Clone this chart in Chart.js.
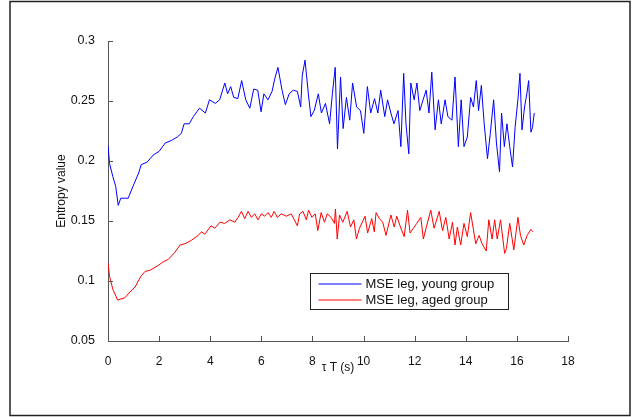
<!DOCTYPE html>
<html>
<head>
<meta charset="utf-8">
<script src="https://cdn.jsdelivr.net/npm/chart.js@4/dist/chart.umd.min.js"></script>
<style>
    html, body { margin: 0; padding: 0; background: #fff; }
    #wrap { width: 632px; height: 417px; }
</style>
</head>
<body>
<div id="wrap"><canvas id="chart" width="632" height="417"></canvas></div>
<script>
// Data
const seriesLabels = ["MSE leg, young group", "MSE leg, aged group"];

const youngTime = [0, 0.06, 0.19, 0.3, 0.4, 0.5, 0.66, 0.79, 0.98, 1.2, 1.3, 1.53, 1.77, 2.0, 2.24, 2.47, 2.71, 2.87, 2.98, 3.18,
    3.34, 3.58, 3.81, 3.97, 4.2, 4.37, 4.57, 4.68, 4.8, 4.92, 5.08, 5.23, 5.39, 5.55, 5.7, 5.86, 5.99, 6.1, 6.26, 6.42,
    6.53, 6.65, 6.81, 6.94, 7.09, 7.25, 7.41, 7.54, 7.6, 7.71, 7.84, 7.94, 8.07, 8.23, 8.35, 8.51, 8.67, 8.78, 8.89, 8.98,
    9.1, 9.2, 9.33, 9.46, 9.57, 9.73, 9.88, 10.01, 10.15, 10.28, 10.43, 10.56, 10.67, 10.83, 10.94, 11.07, 11.19, 11.35, 11.46, 11.57,
    11.66, 11.77, 11.85, 11.98, 12.09, 12.2, 12.33, 12.45, 12.56, 12.67, 12.8, 12.93, 13.04, 13.19, 13.3, 13.46, 13.58, 13.71, 13.82, 13.93,
    14.06, 14.19, 14.3, 14.41, 14.5, 14.61, 14.72, 14.85, 14.96, 15.09, 15.2, 15.32, 15.4, 15.51, 15.61, 15.72, 15.83, 15.93, 16.04, 16.12,
    16.2, 16.3, 16.39, 16.46, 16.55, 16.61, 16.68];
const youngEntropy = [0.213, 0.198, 0.187, 0.179, 0.163, 0.169, 0.169, 0.169, 0.179, 0.190, 0.197, 0.199, 0.205, 0.208, 0.215, 0.217, 0.220, 0.223, 0.231, 0.231,
    0.237, 0.244, 0.240, 0.251, 0.248, 0.251, 0.265, 0.256, 0.262, 0.253, 0.252, 0.267, 0.251, 0.244, 0.260, 0.259, 0.241, 0.256, 0.251, 0.258,
    0.269, 0.278, 0.259, 0.247, 0.256, 0.259, 0.258, 0.245, 0.271, 0.284, 0.256, 0.237, 0.242, 0.256, 0.240, 0.248, 0.231, 0.256, 0.278, 0.210,
    0.270, 0.227, 0.253, 0.234, 0.265, 0.245, 0.242, 0.223, 0.262, 0.240, 0.252, 0.240, 0.259, 0.237, 0.251, 0.240, 0.231, 0.242, 0.212, 0.273,
    0.231, 0.206, 0.265, 0.251, 0.265, 0.242, 0.251, 0.259, 0.240, 0.274, 0.226, 0.251, 0.231, 0.251, 0.237, 0.234, 0.270, 0.212, 0.251, 0.212,
    0.220, 0.253, 0.245, 0.267, 0.242, 0.263, 0.231, 0.202, 0.223, 0.251, 0.215, 0.191, 0.240, 0.212, 0.231, 0.212, 0.195, 0.228, 0.251, 0.273,
    0.226, 0.245, 0.256, 0.267, 0.224, 0.228, 0.240];

const agedTime = [0, 0.06, 0.19, 0.38, 0.5, 0.66, 0.82, 1.06, 1.29, 1.45, 1.65, 1.97, 2.16, 2.36, 2.62, 2.82, 3.01, 3.27, 3.53, 3.66,
    3.79, 4.03, 4.18, 4.38, 4.57, 4.77, 4.96, 5.09, 5.22, 5.35, 5.48, 5.61, 5.74, 5.87, 6.0, 6.13, 6.26, 6.39, 6.5, 6.63,
    6.78, 6.98, 7.17, 7.41, 7.5, 7.63, 7.76, 7.85, 7.98, 8.11, 8.21, 8.34, 8.47, 8.58, 8.73, 8.86, 8.9, 8.97, 9.06, 9.19,
    9.36, 9.49, 9.62, 9.72, 9.84, 10.06, 10.16, 10.32, 10.42, 10.49, 10.62, 10.75, 10.88, 11.07, 11.2, 11.3, 11.46, 11.59, 11.72, 11.82,
    11.95, 12.08, 12.24, 12.34, 12.47, 12.63, 12.76, 12.96, 13.09, 13.22, 13.35, 13.48, 13.58, 13.67, 13.8, 13.93, 14.06, 14.19, 14.32, 14.39,
    14.52, 14.64, 14.8, 14.9, 15.03, 15.13, 15.23, 15.36, 15.52, 15.59, 15.72, 15.88, 16.04, 16.14, 16.27, 16.4, 16.55, 16.63];
const agedEntropy = [0.115, 0.104, 0.093, 0.084, 0.085, 0.086, 0.090, 0.095, 0.104, 0.108, 0.109, 0.113, 0.116, 0.118, 0.124, 0.130, 0.131, 0.134, 0.138, 0.141,
    0.139, 0.146, 0.144, 0.149, 0.148, 0.151, 0.149, 0.153, 0.158, 0.152, 0.158, 0.153, 0.156, 0.151, 0.156, 0.154, 0.157, 0.153, 0.158, 0.153,
    0.156, 0.154, 0.156, 0.146, 0.156, 0.158, 0.151, 0.159, 0.153, 0.156, 0.142, 0.157, 0.149, 0.156, 0.153, 0.148, 0.160, 0.135, 0.155, 0.149,
    0.158, 0.145, 0.151, 0.135, 0.144, 0.154, 0.140, 0.152, 0.141, 0.157, 0.152, 0.149, 0.138, 0.155, 0.145, 0.154, 0.144, 0.137, 0.159, 0.140,
    0.144, 0.148, 0.153, 0.135, 0.146, 0.159, 0.144, 0.158, 0.142, 0.153, 0.135, 0.149, 0.130, 0.145, 0.130, 0.148, 0.137, 0.157, 0.140, 0.131,
    0.138, 0.131, 0.125, 0.151, 0.135, 0.151, 0.135, 0.151, 0.123, 0.127, 0.148, 0.126, 0.153, 0.138, 0.130, 0.138, 0.143, 0.141];

const xTickValues = [0, 2, 4, 6, 8, 10, 12, 14, 16, 18];
const yTickValues = [0.05, 0.1, 0.15, 0.2, 0.25, 0.3];
const seriesColors = ["#0000ff", "#ff0000"];

const toPoints = (xs, ys) => xs.map((x, i) => ({ x: x, y: ys[i] }));

const fontFamily = "'Liberation Sans', Arial, Helvetica, sans-serif";
const textColor = "#111";
const axisColor = "#555";

// outer frame + inward tick marks + boxed legend, MATLAB style
const matlabDecor = {
    id: "matlabDecor",
    beforeDraw(chart) {
        const ctx = chart.ctx;
        ctx.save();
        ctx.fillStyle = "#fff";
        ctx.fillRect(0, 0, chart.width, chart.height);
        ctx.strokeStyle = "#222";
        ctx.lineWidth = 1.5;
        ctx.strokeRect(10, 1.5, 620, 414);
        ctx.restore();
    },
    afterDraw(chart) {
        const ctx = chart.ctx;
        const xs = chart.scales.x;
        const ys = chart.scales.y;
        const area = chart.chartArea;
        ctx.save();
        ctx.strokeStyle = axisColor;
        ctx.lineWidth = 1;
        ctx.beginPath();
        xTickValues.forEach(v => {
            const px = Math.round(xs.getPixelForValue(v)) + 0.5;
            ctx.moveTo(px, area.bottom);
            ctx.lineTo(px, area.bottom - 5);
        });
        yTickValues.forEach(v => {
            const py = Math.round(ys.getPixelForValue(v)) + 0.5;
            ctx.moveTo(area.left, py);
            ctx.lineTo(area.left + 5, py);
        });
        ctx.stroke();

        // legend box
        const lx = 310.5, ly = 273.5, lw = 198, lh = 36;
        ctx.fillStyle = "#fff";
        ctx.fillRect(lx, ly, lw, lh);
        ctx.strokeStyle = "#222";
        ctx.lineWidth = 1;
        ctx.strokeRect(lx, ly, lw, lh);
        ctx.font = "13px " + fontFamily;
        ctx.textBaseline = "middle";
        chart.data.datasets.forEach((ds, i) => {
            const yy = Math.round(ly + 10 + i * 16);
            ctx.strokeStyle = ds.borderColor;
            ctx.lineWidth = 1.2;
            ctx.beginPath();
            ctx.moveTo(lx + 8, yy);
            ctx.lineTo(lx + 51, yy);
            ctx.stroke();
            ctx.fillStyle = textColor;
            ctx.fillText(ds.label, lx + 55, yy + 0.5);
        });
        ctx.restore();
    }
};

new Chart(document.getElementById("chart"), {
    type: "line",
    data: {
        datasets: [
            {
                label: seriesLabels[0],
                data: toPoints(youngTime, youngEntropy),
                borderColor: seriesColors[0],
                borderWidth: 1,
                pointRadius: 0,
                tension: 0
            },
            {
                label: seriesLabels[1],
                data: toPoints(agedTime, agedEntropy),
                borderColor: seriesColors[1],
                borderWidth: 1,
                pointRadius: 0,
                tension: 0
            }
        ]
    },
    options: {
        responsive: false,
        animation: false,
        events: [],
        layout: {
            padding: { left: 10, top: 41, right: 64, bottom: 30 }
        },
        plugins: {
            legend: { display: false },
            tooltip: { enabled: false }
        },
        scales: {
            x: {
                type: "linear",
                min: 0,
                max: 18,
                afterBuildTicks: s => { s.ticks = xTickValues.map(v => ({ value: v })); },
                afterFit: s => { s.height = 46; s.paddingLeft = 0; s.paddingRight = 0; },
                grid: { display: false },
                border: { display: true, color: axisColor, width: 1 },
                ticks: {
                    padding: 5,
                    maxRotation: 0,
                    color: textColor,
                    font: { family: fontFamily, size: 12 },
                    callback: v => String(v)
                },
                title: {
                    display: true,
                    text: "τ T (s)",
                    color: textColor,
                    font: { family: fontFamily, size: 12 },
                    padding: { top: 0, bottom: 12 }
                }
            },
            y: {
                type: "linear",
                min: 0.05,
                max: 0.3,
                afterBuildTicks: s => { s.ticks = yTickValues.map(v => ({ value: v })); },
                afterFit: s => { s.width = 98; s.paddingTop = 0; s.paddingBottom = 0; },
                grid: { display: false },
                border: { display: true, color: axisColor, width: 1 },
                ticks: {
                    padding: 5,
                    color: textColor,
                    font: { family: fontFamily, size: 12.5 },
                    callback: v => String(Math.round(v * 100) / 100)
                },
                title: {
                    display: true,
                    text: "Entropy value",
                    color: textColor,
                    font: { family: fontFamily, size: 12 },
                    padding: { top: 44, bottom: 0 }
                }
            }
        }
    },
    plugins: [matlabDecor]
});
</script>
</body>
</html>
